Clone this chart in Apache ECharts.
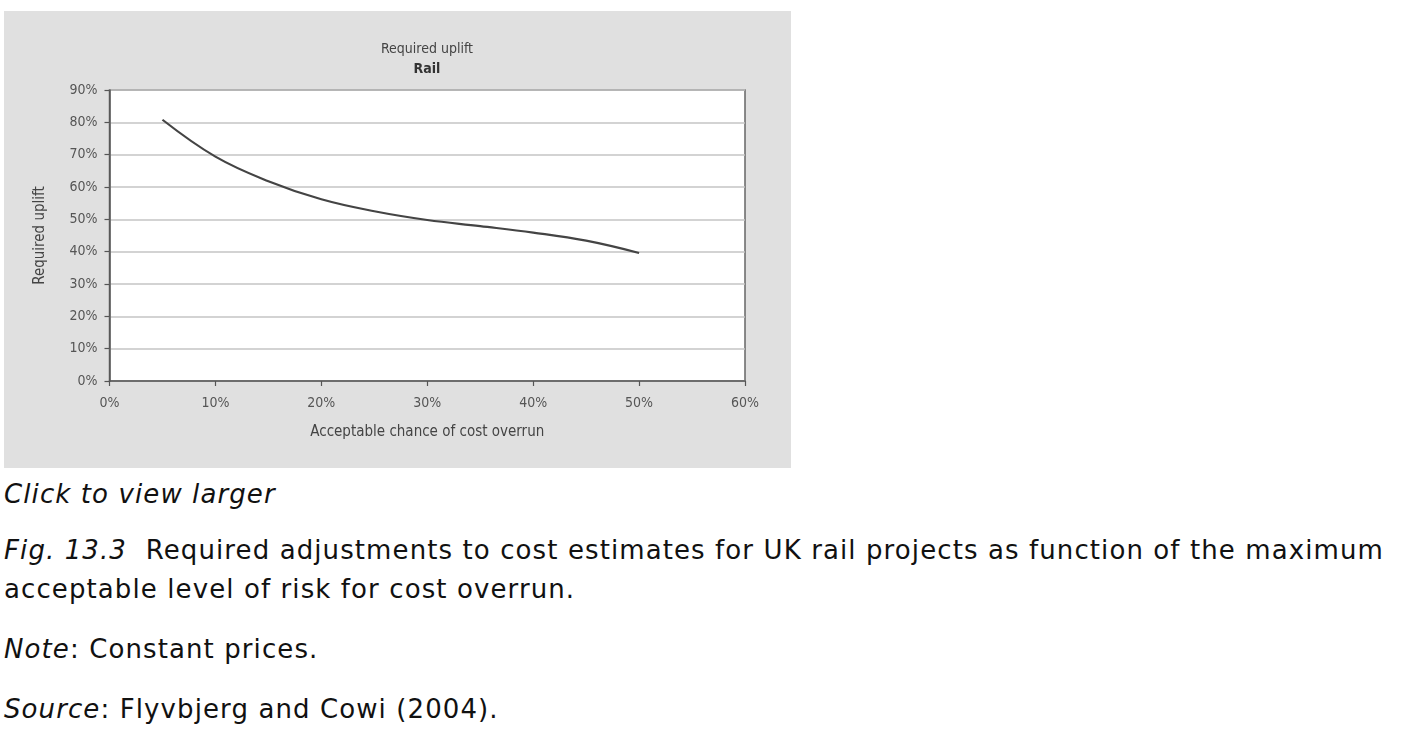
<!DOCTYPE html>
<html>
<head>
<meta charset="utf-8">
<script src="https://cdn.jsdelivr.net/npm/echarts@6/dist/echarts.min.js"></script>
<style>
  body { margin: 0; background: #fff; width: 1406px; height: 739px; position: relative; overflow: hidden; }
  #main { position: absolute; left: 4px; top: 11px; width: 787px; height: 457px; background: #e0e0e0; }
  .cap { position: absolute; left: 4px; font-family: "DejaVu Sans", sans-serif; font-size: 26px; line-height: 26px; letter-spacing: 1.1px; color: #111; white-space: nowrap; }
  .cap i { font-style: italic; }
</style>
</head>
<body>
<div id="main"></div>
<div class="cap" style="top:481px"><i>Click to view larger</i></div>
<div class="cap" style="top:537px"><i>Fig. 13.3</i>&nbsp; Required adjustments to cost estimates for UK rail projects as function of the maximum</div>
<div class="cap" style="top:576px">acceptable level of risk for cost overrun.</div>
<div class="cap" style="top:636px"><i>Note</i>: Constant prices.</div>
<div class="cap" style="top:696px"><i>Source</i>: Flyvbjerg and Cowi (2004).</div>
<script>
  // acceptable chance of cost overrun (%) -> required uplift (%)
  var chanceOfOverrun = [5, 10, 15, 20, 25, 30, 35, 40, 45, 50];
  var requiredUplift = [80.8, 69.4, 61.8, 56.2, 52.5, 49.8, 47.9, 45.9, 43.4, 39.6];
  var titleLines = ["Required uplift", "Rail"];

  var chartFont = '"Liberation Sans Narrow", "DejaVu Sans Condensed", sans-serif';
  var myChart = echarts.init(document.getElementById("main"));

  var points = chanceOfOverrun.map(function (x, i) {
    return [x, requiredUplift[i]];
  });

  myChart.setOption({
    animation: false,
    backgroundColor: "#e0e0e0",
    graphic: [
      {
        type: "text",
        x: 423,
        y: 38,
        style: { text: titleLines[0], align: "center", verticalAlign: "middle", font: "14px " + chartFont, fill: "#444" },
      },
      {
        type: "text",
        x: 423,
        y: 58,
        style: { text: titleLines[1], align: "center", verticalAlign: "middle", font: "bold 14px " + chartFont, fill: "#333" },
      },
    ],
    grid: {
      left: 105.5,
      right: 46,
      top: 79,
      bottom: 87,
      show: true,
      backgroundColor: "#fff",
      borderColor: "#666",
      borderWidth: 1.5,
    },
    xAxis: {
      type: "value",
      min: 0,
      max: 60,
      interval: 10,
      name: "Acceptable chance of cost overrun",
      nameLocation: "middle",
      nameGap: 44,
      nameTextStyle: { fontFamily: chartFont, fontSize: 15, color: "#444" },
      axisLine: { lineStyle: { color: "#555", width: 1.5 } },
      axisTick: { show: true, length: 5, lineStyle: { color: "#555", width: 1.2 } },
      axisLabel: { formatter: "{value}%", margin: 15, fontFamily: chartFont, fontSize: 14, color: "#555" },
      splitLine: { show: false },
    },
    yAxis: {
      type: "value",
      min: 0,
      max: 90,
      interval: 10,
      name: "Required uplift",
      nameLocation: "middle",
      nameRotate: 90,
      nameGap: 62,
      nameTextStyle: { fontFamily: chartFont, fontSize: 15, color: "#444" },
      axisLine: { show: true, lineStyle: { color: "#555", width: 1.5 } },
      axisTick: { show: true, length: 5, lineStyle: { color: "#555", width: 1.2 } },
      axisLabel: { formatter: "{value}%", margin: 12, fontFamily: chartFont, fontSize: 14, color: "#555" },
      splitLine: { show: true, lineStyle: { color: "#c4c4c4", width: 1.5 } },
    },
    series: [
      {
        type: "line",
        data: points,
        smooth: 0.4,
        showSymbol: false,
        lineStyle: { color: "#444", width: 2.2 },
      },
    ],
  });
</script>
</body>
</html>
